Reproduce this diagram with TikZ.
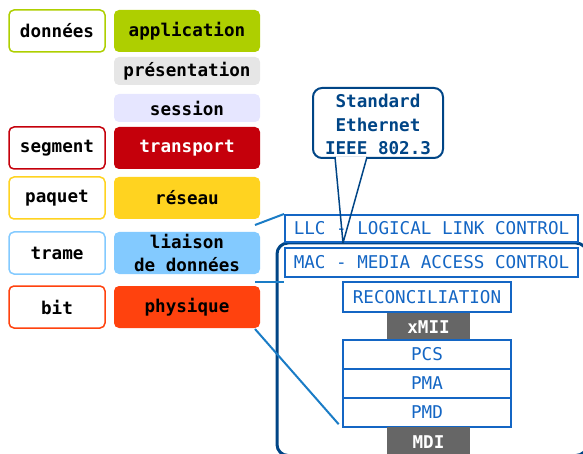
\documentclass[tikz,border=0pt]{standalone}
\usepackage{fontspec}
\setmonofont{DejaVu Sans Mono}
\usepackage{tikz}
\definecolor{appgreen}{HTML}{AECF00}
\definecolor{pregray}{HTML}{E6E6E6}
\definecolor{seslav}{HTML}{E6E6FF}
\definecolor{trared}{HTML}{C5000B}
\definecolor{resyel}{HTML}{FFD320}
\definecolor{liablue}{HTML}{83CAFF}
\definecolor{phyorange}{HTML}{FF420E}
\definecolor{navy}{HTML}{004586}
\definecolor{boxblue}{HTML}{1466C4}
\definecolor{linkblue}{HTML}{1A7CC6}
\definecolor{ifgray}{HTML}{666666}

\begin{document}
\begin{tikzpicture}[x=1pt, y=-1pt,
  font=\ttfamily\bfseries\fontsize{17.6}{23.5}\selectfont,
  tag/.style={draw=#1, line width=1.5pt, fill=white, rounded corners=5pt,
    minimum width=96pt, minimum height=42pt, inner sep=0pt},
  layer/.style={fill=#1, rounded corners=5pt, minimum width=146pt,
    minimum height=42pt, inner sep=0pt, align=center},
  sub/.style={draw=boxblue, line width=2pt, fill=white, text=boxblue,
    font=\ttfamily\mdseries\fontsize{17.6}{23.5}\selectfont,
    minimum width=168pt, minimum height=29pt, inner sep=0pt},
  iface/.style={fill=ifgray, text=white, minimum width=83pt,
    minimum height=29pt, inner sep=0pt},
  link/.style={draw=linkblue, line width=2pt}]
  \useasboundingbox (0,0) rectangle (583,454);
  \clip (0,0) rectangle (583,454);

  % OSI layers
  \node [tag=appgreen] (dat) at (57, 31) {données};
  \node [layer=appgreen] (app) at (187, 31) {application};
  \node [layer=pregray, minimum height=28pt] (pre) at (187, 71) {présentation};
  \node [layer=seslav, minimum height=28pt] (ses) at (187, 108) {session};
  \node [tag=trared] (seg) at (57, 148) {segment};
  \node [layer=trared, text=white] (tra) at (187, 148) {transport};
  \node [tag=resyel] (paq) at (57, 198) {paquet};
  \node [layer=resyel] (res) at (187, 198) {réseau};
  \node [tag=liablue] (tram) at (57, 253) {trame};
  \node [layer=liablue] (lia) at (187, 253) {liaison\\de données};
  \node [tag=phyorange] (bit) at (57, 307) {bit};
  \node [layer=phyorange] (phy) at (187, 307) {physique};

  % Ethernet
  \draw [navy, line width=3pt, rounded corners=11pt] (277, 243) rectangle (587, 455.5);
  \node [sub, minimum width=293pt, minimum height=27pt] (llc) at (431.5, 228.5) {LLC - LOGICAL LINK CONTROL};
  \node [sub, minimum width=293pt] (mac) at (431.5, 262.5) {MAC - MEDIA ACCESS CONTROL};
  \node [sub, minimum height=30pt] (rec) at (427, 297) {RECONCILIATION};
  \node [iface] (xmii) at (428.5, 327.5) {xMII};
  \node [sub] (pcs) at (427, 354.5) {PCS};
  \node [sub] (pma) at (427, 383.5) {PMA};
  \node [sub] (pmd) at (427, 412.5) {PMD};
  \node [iface, minimum height=30pt] (mdi) at (428.5, 442) {MDI};

  \coordinate (z1) at (255, 225);
  \coordinate (z2) at (255, 282);
  \coordinate (z3) at (255, 329);
  \draw [link] (z1) -- (llc.north west);
  \draw [link] (z2) -- (z2 -| mac.west);
  \draw [link, shorten >=5pt] (z3) -- (pmd.south west);

  % callout
  \node [draw=navy, line width=2pt, fill=white, rounded corners=9pt,
    minimum width=130pt, minimum height=70pt, inner sep=0pt] (std) at (378, 123) {};
  \node [text=navy, align=center, inner sep=0pt] (stdtxt) at (378, 124.5) {Standard\\Ethernet\\IEEE 802.3};
  \coordinate (tip) at (343, 243);
  \draw [white, line width=2.5pt] (336, 158) -- (366, 158);
  \draw [navy, line width=1.5pt, line join=round]
    (335, 157) -- (tip) -- (367, 157);
\end{tikzpicture}
\end{document}
